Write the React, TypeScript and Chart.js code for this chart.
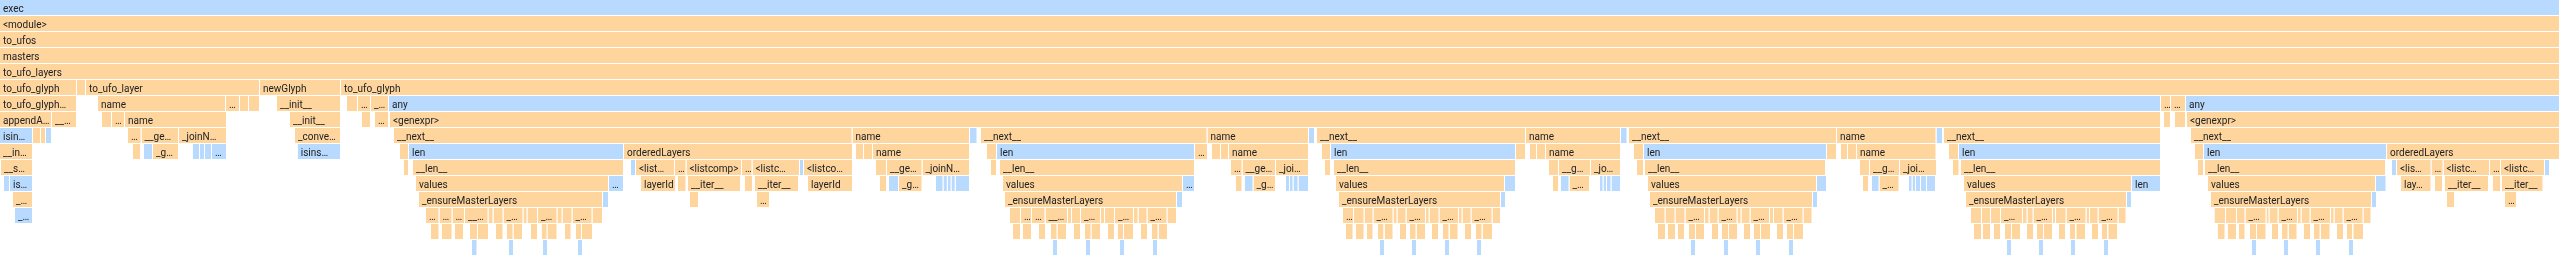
import { useEffect, useRef } from "react";
import { Chart, registerables } from "chart.js";

Chart.register(...registerables);

// Each frame: [start sample, end sample, label as displayed, kind (0 = python, 1 = builtin)]
type Frame = [number, number, string, number];
const P = 0;
const B = 1;

const depthLabels = ["0", "1", "2", "3", "4", "5", "6", "7", "8", "9", "10", "11", "12", "13", "14", "15"];
const totalSamples = 2560;

const depth0: Frame[] = [[0, 2560, "exec", B]];
const depth1: Frame[] = [[0, 2560, "<module>", P]];
const depth2: Frame[] = [[0, 2560, "to_ufos", P]];
const depth3: Frame[] = [[0, 2560, "masters", P]];
const depth4: Frame[] = [[0, 2560, "to_ufo_layers", P]];
const depth5: Frame[] = [
  [0, 77, "to_ufo_glyph", P], [77, 86, "", P], [86, 260, "to_ufo_layer", P],
  [260, 341, "newGlyph", P], [341, 2560, "to_ufo_glyph", P],
];
const depth6: Frame[] = [
  [0, 77, "to_ufo_glyph…", P], [98, 226, "name", P], [226, 240, "…", P], [240, 249, "", P],
  [249, 260, "", P], [277, 341, "__init__", P], [347, 358, "", P], [358, 371, "…", P],
  [371, 389, "_…", P], [389, 2161, "any", B], [2161, 2171, "…", P], [2171, 2186, "…", P],
  [2186, 2560, "any", B],
];
const depth7: Frame[] = [
  [0, 52, "appendA…", P], [52, 77, "__…", P], [102, 112, "", P], [112, 125, "…", P],
  [125, 227, "name", P], [290, 341, "__init__", P], [362, 371, "", P], [375, 389, "…", P],
  [390, 2161, "<genexpr>", P], [2164, 2171, "", P], [2175, 2186, "", P], [2187, 2560, "<genexpr>", P],
];
const depth8: Frame[] = [
  [0, 33, "isin…", B], [33, 41, "", P], [41, 46, "", P], [46, 52, "", B],
  [128, 141.5, "…", P], [141.5, 179, "__ge…", P], [179, 227, "_joinN…", P], [295, 341, "_conve…", P],
  [394, 852.5, "__next__", P], [852.5, 970, "name", P], [970, 977.5, "", B],
  [981, 1207.5, "__next__", P], [1207.5, 1309, "name", P], [1309, 1315, "", B],
  [1317, 1526, "__next__", P], [1526, 1621, "name", P], [1621, 1627.5, "", B],
  [1629, 1837, "__next__", P], [1837, 1936.5, "name", P], [1936.5, 1943, "", B],
  [1944, 2161, "__next__", P], [2191, 2560, "__next__", P],
];
const depth9: Frame[] = [
  [0, 33, "__in…", P], [133, 141, "", P], [144, 153, "", B], [153, 179, "_g…", P],
  [192.7, 200, "", B], [200, 205, "", B], [205, 212, "", B], [212, 227, "…", B],
  [297.7, 341, "isins…", B], [400, 409, "", P], [409, 624, "len", B], [624, 853, "orderedLayers", P],
  [856, 864, "", P], [864, 873, "", P], [873, 970, "name", P],
  [987, 997, "", P], [997, 1195, "len", B], [1195, 1208, "…", P],
  [1212, 1221, "", P], [1221, 1229, "", P], [1229, 1309, "name", P],
  [1322, 1331, "", P], [1331, 1516, "len", B], [1516, 1526, "", P],
  [1530, 1537, "", P], [1537, 1546, "", P], [1546, 1621, "name", P],
  [1634, 1644, "", P], [1644, 1827, "len", B], [1827, 1837, "", P],
  [1841, 1848, "", P], [1848, 1857, "", P], [1857, 1936.5, "name", P],
  [1949, 1959, "", P], [1959, 2161, "len", B], [2195, 2204, "", P], [2204, 2387, "len", B],
  [2387, 2560, "orderedLayers", P],
];
const depth10: Frame[] = [
  [1, 33, "__s…", P], [404, 409, "", P], [413, 624, "__len__", P], [631, 636, "", B],
  [636, 675, "<list…", P], [675, 686.5, "…", P], [686.5, 742, "<listcomp>", P], [742, 752.5, "…", P],
  [752.5, 800, "<listc…", P], [800, 804, "", B], [804, 853, "<listco…", P],
  [876, 887, "", P], [887, 922.5, "__ge…", P], [922.5, 970, "_joinN…", P],
  [991, 997, "", P], [1000, 1195, "__len__", P], [1231, 1242.5, "…", P], [1242.5, 1276, "__ge…", P],
  [1276, 1309, "_joi…", P], [1325, 1331, "", P], [1334, 1516, "__len__", P],
  [1549, 1559, "", P], [1559, 1591, "__g…", P], [1591, 1621, "_jo…", P],
  [1637, 1644, "", P], [1645, 1826, "__len__", P], [1860, 1870, "", P], [1870, 1900, "__g…", P],
  [1900, 1937, "_joi…", P], [1953, 1959.5, "", P], [1961, 2161, "__len__", P],
  [2198, 2204, "", P], [2205, 2386, "__len__", P], [2392, 2397, "", B], [2397, 2431.5, "<lis…", P],
  [2431.5, 2443.5, "…", P], [2443.5, 2490, "<listc…", P], [2490, 2501, "…", P],
  [2501, 2545, "<listc…", P], [2545, 2550, "", B],
];
const depth11: Frame[] = [
  [4, 10, "", B], [10, 33, "is…", B], [416, 609, "values", P], [609, 624, "…", B],
  [641, 676, "layerId", P], [678, 686.5, "", P], [688, 741, "__iter__", P], [745, 753, "", P],
  [755, 799, "__iter__", P], [808, 853, "layerId", P], [880, 887, "", P], [889, 899, "", B],
  [899, 922.5, "_g…", P], [936, 943.5, "", B], [943.5, 947.8, "", B], [947.8, 951.5, "", B],
  [951.5, 955.7, "", B], [955.7, 970, "", B],
  [1003, 1183, "values", P], [1183, 1195, "…", B], [1236, 1242.5, "", P], [1244.7, 1253.5, "", B],
  [1253.5, 1276, "_g…", P], [1286, 1290, "", B], [1290, 1293.5, "", B], [1293.5, 1298.5, "", B],
  [1298.5, 1309, "", B], [1336, 1505, "values", P], [1505, 1516, "", B],
  [1553, 1559, "", P], [1561, 1569.5, "", B], [1569.5, 1590, "_…", P],
  [1600, 1603.5, "", B], [1603.5, 1607, "", B], [1607, 1611.5, "", B], [1611.5, 1621, "", B],
  [1648, 1817, "values", P], [1817, 1827, "", B], [1863, 1869, "", P], [1872, 1879.5, "", B],
  [1879.5, 1899.5, "_…", P], [1909, 1912.5, "", B], [1912.5, 1916, "", B], [1916, 1921, "", B],
  [1921, 1927, "", B], [1927, 1936, "", B],
  [1964, 2132, "values", P], [2132, 2161, "len", B], [2208, 2376, "values", P], [2376, 2386.5, "", B],
  [2401, 2431.5, "lay…", P], [2435, 2443, "", P], [2445, 2489, "__iter__", P], [2493, 2501, "", P],
  [2502, 2543.5, "__iter__", P],
];
const depth12: Frame[] = [
  [13, 33, "_…", P], [419, 603, "_ensureMasterLayers", P], [603, 609, "", B],
  [690, 699, "", P], [757, 770, "…", P],
  [1005, 1177, "_ensureMasterLayers", P], [1177, 1183, "", B],
  [1339, 1501, "_ensureMasterLayers", P], [1501, 1506, "", B],
  [1650, 1813, "_ensureMasterLayers", P], [1813, 1818, "", B],
  [1966, 2127, "_ensureMasterLayers", P], [2127, 2132, "", B],
  [2211, 2372, "_ensureMasterLayers", P], [2372, 2377, "", B],
  [2447, 2455, "", P], [2505, 2517, "…", P],
];
const depth13: Frame[] = [
  [15, 33, "_…", B],
  [426, 439.5, "…", P], [439.5, 452.5, "…", P], [452.5, 465, "…", P], [465, 488.5, "__…", P],
  [488.5, 493.5, "", P], [493.5, 503.5, "", P], [503.5, 523.5, "_…", P], [523.5, 527.5, "", P],
  [527.5, 538, "", P], [538, 557.5, "_…", P], [557.5, 562.5, "", P], [562.5, 572.5, "", P],
  [572.5, 592.5, "_…", P], [592.5, 603, "", P],
  [1010, 1021, "", P], [1021, 1032, "…", P], [1032, 1045.5, "…", P], [1045.5, 1068, "__…", P],
  [1068, 1072, "", P], [1072, 1081, "", P], [1081, 1101, "_…", P], [1101, 1105, "", P],
  [1105, 1115, "", P], [1115, 1134, "_…", P], [1134, 1138.5, "", P], [1138.5, 1147.5, "", P],
  [1147.5, 1167.5, "_…", P], [1167.5, 1177, "", P],
  [1343, 1354, "…", P], [1354, 1364.5, "", P], [1364.5, 1373.5, "", P], [1373.5, 1393.5, "_…", P],
  [1393.5, 1397.5, "", P], [1397.5, 1406.5, "", P], [1406.5, 1426, "_…", P], [1426, 1429.5, "", P],
  [1429.5, 1439.5, "", P], [1439.5, 1459, "_…", P], [1459, 1462.5, "", P], [1462.5, 1471.5, "", P],
  [1471.5, 1492.5, "_…", P], [1492.5, 1501, "", P],
  [1655, 1665.5, "", P], [1665.5, 1675.5, "", P], [1675.5, 1685.5, "", P], [1685.5, 1705, "_…", P],
  [1705, 1709.5, "", P], [1709.5, 1718.5, "", P], [1718.5, 1737.5, "_…", P], [1737.5, 1741.5, "", P],
  [1741.5, 1750.5, "", P], [1750.5, 1770, "_…", P], [1770, 1774, "", P], [1774, 1783.5, "", P],
  [1783.5, 1803.5, "_…", P], [1803.5, 1812.5, "", P],
  [1971, 1982, "", P], [1982, 1991, "", P], [1991, 2001, "", P], [2001, 2023, "_…", P],
  [2023, 2027.5, "", P], [2027.5, 2033.5, "", P], [2033.5, 2053, "_…", P], [2053, 2056, "", P],
  [2056, 2066.5, "", P], [2066.5, 2086.5, "_…", P], [2086.5, 2090, "", P], [2090, 2098.5, "", P],
  [2098.5, 2118.5, "_…", P], [2118.5, 2126.5, "", P],
  [2214.5, 2226, "", P], [2226, 2237, "", P], [2237, 2245.5, "", P], [2245.5, 2266.5, "_…", P],
  [2266.5, 2269.5, "", P], [2269.5, 2278.5, "", P], [2278.5, 2298, "_…", P], [2298, 2301.5, "", P],
  [2301.5, 2310.5, "", P], [2310.5, 2331, "_…", P], [2331, 2334.5, "", P], [2334.5, 2343.5, "", P],
  [2343.5, 2363.5, "_…", P], [2363.5, 2371.5, "", P],
];
const depth14: Frame[] = [
  [431, 439.5, "", P], [442, 452.5, "", P], [455, 464, "", P], [470, 478, "", P], [478, 489, "", P],
  [496, 503.5, "", P], [507, 513.5, "", P], [513.5, 523, "", P], [531, 538, "", P], [541.7, 547.5, "", P],
  [547.5, 557.5, "", P], [565, 571.5, "", P], [576, 582, "", P], [582, 593, "", P],
  [1013, 1021, "", P], [1023, 1032, "", P], [1039, 1046, "", P], [1051, 1057.5, "", P], [1057.5, 1067, "", P],
  [1074, 1081, "", P], [1085, 1091.5, "", P], [1091.5, 1101, "", P], [1108, 1115, "", P], [1117.7, 1124, "", P],
  [1124, 1134, "", P], [1141, 1148, "", P], [1152, 1158.5, "", P], [1159, 1168, "", P],
  [1346, 1353.5, "", P], [1356, 1364.5, "", P], [1367, 1373.5, "", P], [1378, 1384.3, "", P], [1384.7, 1393.5, "", P],
  [1400, 1407, "", P], [1410, 1416.5, "", P], [1416.7, 1426, "", P], [1432, 1439, "", P], [1443, 1449.5, "", P],
  [1449.7, 1458.5, "", P], [1465, 1472, "", P], [1476, 1482.5, "", P], [1482.7, 1493, "", P],
  [1658, 1666, "", P], [1668, 1676, "", P], [1678, 1685, "", P], [1689, 1696, "", P], [1696, 1705, "", P],
  [1712, 1719, "", P], [1722, 1729, "", P], [1729, 1738, "", P], [1744, 1751, "", P], [1754, 1761, "", P],
  [1761, 1771, "", P], [1777, 1784, "", P], [1787, 1794, "", P], [1794, 1804, "", P],
  [1974, 1982, "", P], [1983, 1991, "", P], [1994, 2001, "", P], [2005, 2012, "", P], [2012, 2021, "", P],
  [2027, 2034, "", P], [2037, 2044, "", P], [2044, 2053, "", P], [2059, 2066, "", P], [2070, 2076, "", P],
  [2076.3, 2086, "", P], [2092, 2099, "", P], [2102, 2108, "", P], [2108.3, 2118, "", P],
  [2217.7, 2225.5, "", P], [2227.7, 2237, "", P], [2239, 2245.5, "", P], [2250, 2257, "", P], [2257, 2266.5, "", P],
  [2272, 2279, "", P], [2282, 2288.5, "", P], [2288.7, 2297.5, "", P], [2304, 2311, "", P], [2314, 2320.5, "", P],
  [2320.7, 2330.5, "", P], [2337, 2344, "", P], [2347, 2353, "", P], [2353.3, 2364, "", P],
];
const depth15: Frame[] = [
  [472, 477.5, "", B], [509, 514, "", B], [543, 548, "", B], [578, 583, "", B],
  [1053, 1058, "", B], [1086, 1091, "", B], [1120, 1125, "", B], [1153, 1158, "", B],
  [1380, 1385, "", B], [1412, 1417, "", B], [1445, 1450, "", B], [1477, 1482, "", B],
  [1691, 1696, "", B], [1724, 1729, "", B], [1756, 1761, "", B], [1789, 1794, "", B],
  [2007, 2012, "", B], [2039, 2044, "", B], [2071, 2076, "", B], [2104, 2109, "", B],
  [2252, 2257, "", B], [2284, 2289, "", B], [2316, 2321, "", B], [2349, 2354, "", B],
];

const stacks: Frame[][] = [
  depth0, depth1, depth2, depth3, depth4, depth5, depth6, depth7,
  depth8, depth9, depth10, depth11, depth12, depth13, depth14, depth15,
];

const PY_COLOR = "#ffd59e";
const BUILTIN_COLOR = "#b8daff";
const TEXT_COLOR = "#222222";

export default function App() {
  const canvasRef = useRef<HTMLCanvasElement>(null);

  useEffect(() => {
    const points: { x: [number, number]; y: string }[] = [];
    const colors: string[] = [];
    const names: string[] = [];
    stacks.forEach((row, depth) => {
      row.forEach(([start, end, name, kind]) => {
        points.push({ x: [start, end], y: depthLabels[depth] });
        colors.push(kind === B ? BUILTIN_COLOR : PY_COLOR);
        names.push(name);
      });
    });

    const labelPlugin = {
      id: "frameLabels",
      afterDatasetsDraw(chart: any) {
        const ctx = chart.ctx as CanvasRenderingContext2D;
        const meta = chart.getDatasetMeta(0);
        ctx.save();
        ctx.font = "10px Roboto";
        ctx.fillStyle = TEXT_COLOR;
        ctx.textBaseline = "alphabetic";
        ctx.textAlign = "left";
        meta.data.forEach((el: any, i: number) => {
          const text = names[i];
          if (!text) return;
          const { x, base, y, height } = el.getProps(["x", "base", "y", "height"], true);
          const left = Math.min(x, base);
          const right = Math.max(x, base);
          const top = y - height / 2;
          ctx.save();
          ctx.beginPath();
          ctx.rect(left, top, Math.max(0, right - left - 1), height);
          ctx.clip();
          ctx.fillText(text, left + 3, top + 11.5);
          ctx.restore();
        });
        ctx.restore();
      },
    };

    const chart = new Chart(canvasRef.current as HTMLCanvasElement, {
      type: "bar",
      data: {
        labels: depthLabels,
        datasets: [
          {
            data: points as any,
            backgroundColor: colors,
            borderColor: "#ffffff",
            borderWidth: { top: 0, right: 1, bottom: 1, left: 0 } as any,
            borderSkipped: false,
            inflateAmount: 0,
            barPercentage: 1,
            categoryPercentage: 1,
          } as any,
        ],
      },
      options: {
        indexAxis: "y",
        animation: false,
        responsive: true,
        maintainAspectRatio: false,
        layout: { padding: { top: 0, left: 0, right: 0, bottom: 11 } },
        scales: {
          x: { type: "linear", min: 0, max: totalSamples, display: false },
          y: { type: "category", labels: depthLabels, display: false, offset: true },
        },
        plugins: {
          legend: { display: false },
          tooltip: { enabled: false },
        },
      },
      plugins: [labelPlugin],
    });

    return () => chart.destroy();
  }, []);

  return (
    <div style={{ position: "fixed", left: 0, top: 0, width: 2560, height: 267, background: "#ffffff" }}>
      <canvas ref={canvasRef} />
    </div>
  );
}
